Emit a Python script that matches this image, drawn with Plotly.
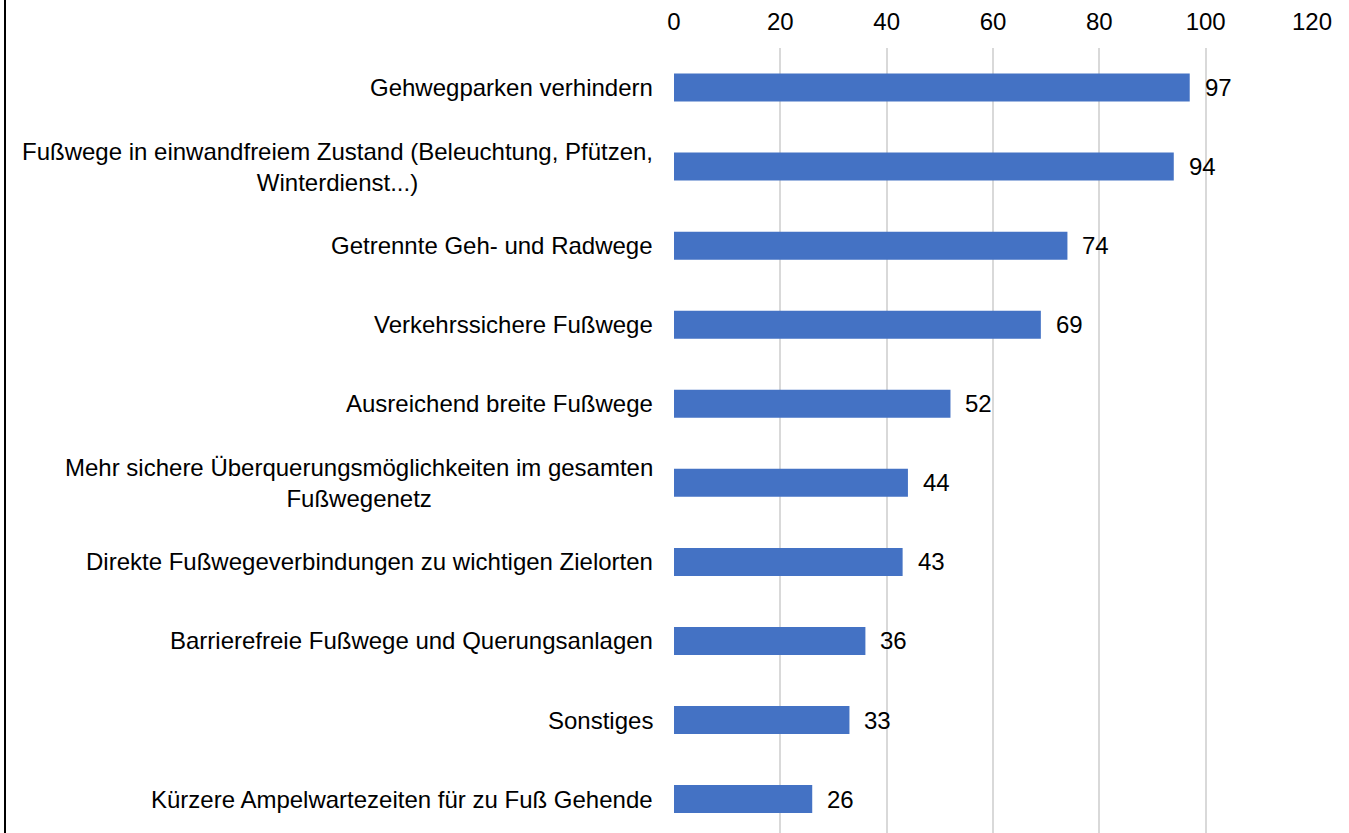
import plotly.graph_objects as go

# Survey: priorities for pedestrian infrastructure (number of mentions)
categories = [
    "Gehwegparken verhindern",
    "Fußwege in einwandfreiem Zustand (Beleuchtung, Pfützen,<br>Winterdienst...)",
    "Getrennte Geh- und Radwege",
    "Verkehrssichere Fußwege",
    "Ausreichend breite Fußwege",
    "Mehr sichere Überquerungsmöglichkeiten im gesamten<br>Fußwegenetz",
    "Direkte Fußwegeverbindungen zu wichtigen Zielorten",
    "Barrierefreie Fußwege und Querungsanlagen",
    "Sonstiges",
    "Kürzere Ampelwartezeiten für zu Fuß Gehende",
]
values = [97, 94, 74, 69, 52, 44, 43, 36, 33, 26]
x_ticks = [0, 20, 40, 60, 80, 100, 120]

W, H = 1349, 833
M_L, M_R, M_T, M_B = 674, 37, 48, 0
FONT = "Liberation Sans, Arial, sans-serif"
FONT_SIZE = 24
BAR_COLOR = "#4472C4"

positions = list(range(len(categories)))

fig = go.Figure(
    go.Bar(
        x=values,
        y=positions,
        orientation="h",
        width=0.354,
        marker=dict(color=BAR_COLOR, line=dict(width=0)),
        hoverinfo="skip",
    )
)

annotations = []
# category labels, centred within their own block, right edge next to the axis
for pos, label in zip(positions, categories):
    annotations.append(dict(
        x=0, xref="paper", y=pos, yref="y",
        text=label, showarrow=False,
        xanchor="right", yanchor="middle", align="center",
        xshift=-19,
        font=dict(family=FONT, size=FONT_SIZE, color="#000000"),
    ))
# value labels at the end of each bar
for pos, v in zip(positions, values):
    annotations.append(dict(
        x=v, xref="x", y=pos, yref="y",
        text=str(v), showarrow=False,
        xanchor="left", yanchor="middle",
        xshift=13,
        font=dict(family=FONT, size=FONT_SIZE, color="#000000"),
    ))

plot_h = H - M_T - M_B
plot_w = W - M_L - M_R
band = 79.06
bottom = -0.5 + plot_h / band

fig.update_layout(
    width=W, height=H,
    margin=dict(l=M_L, r=M_R, t=M_T, b=M_B, pad=0),
    paper_bgcolor="white", plot_bgcolor="white",
    showlegend=False,
    font=dict(family=FONT, size=FONT_SIZE, color="#000000"),
    xaxis=dict(
        side="top",
        range=[0, 120],
        tickvals=x_ticks,
        ticktext=[str(t) for t in x_ticks],
        showgrid=True, gridcolor="#D9D9D9", gridwidth=2,
        zeroline=False, showline=False, ticks="",
        ticklabelstandoff=12,
        tickfont=dict(family=FONT, size=FONT_SIZE, color="#000000"),
        fixedrange=True,
    ),
    yaxis=dict(
        range=[bottom, -0.5],
        showticklabels=False, showgrid=False, zeroline=False,
        showline=False, ticks="", fixedrange=True,
    ),
    annotations=annotations,
    shapes=[dict(
        type="line", xref="paper", yref="paper",
        x0=(5 - M_L) / plot_w, x1=(5 - M_L) / plot_w,
        y0=-0.02, y1=1 + (M_T + 5) / plot_h,
        line=dict(color="#000000", width=2),
    )],
)

fig.write_html("out.html")
